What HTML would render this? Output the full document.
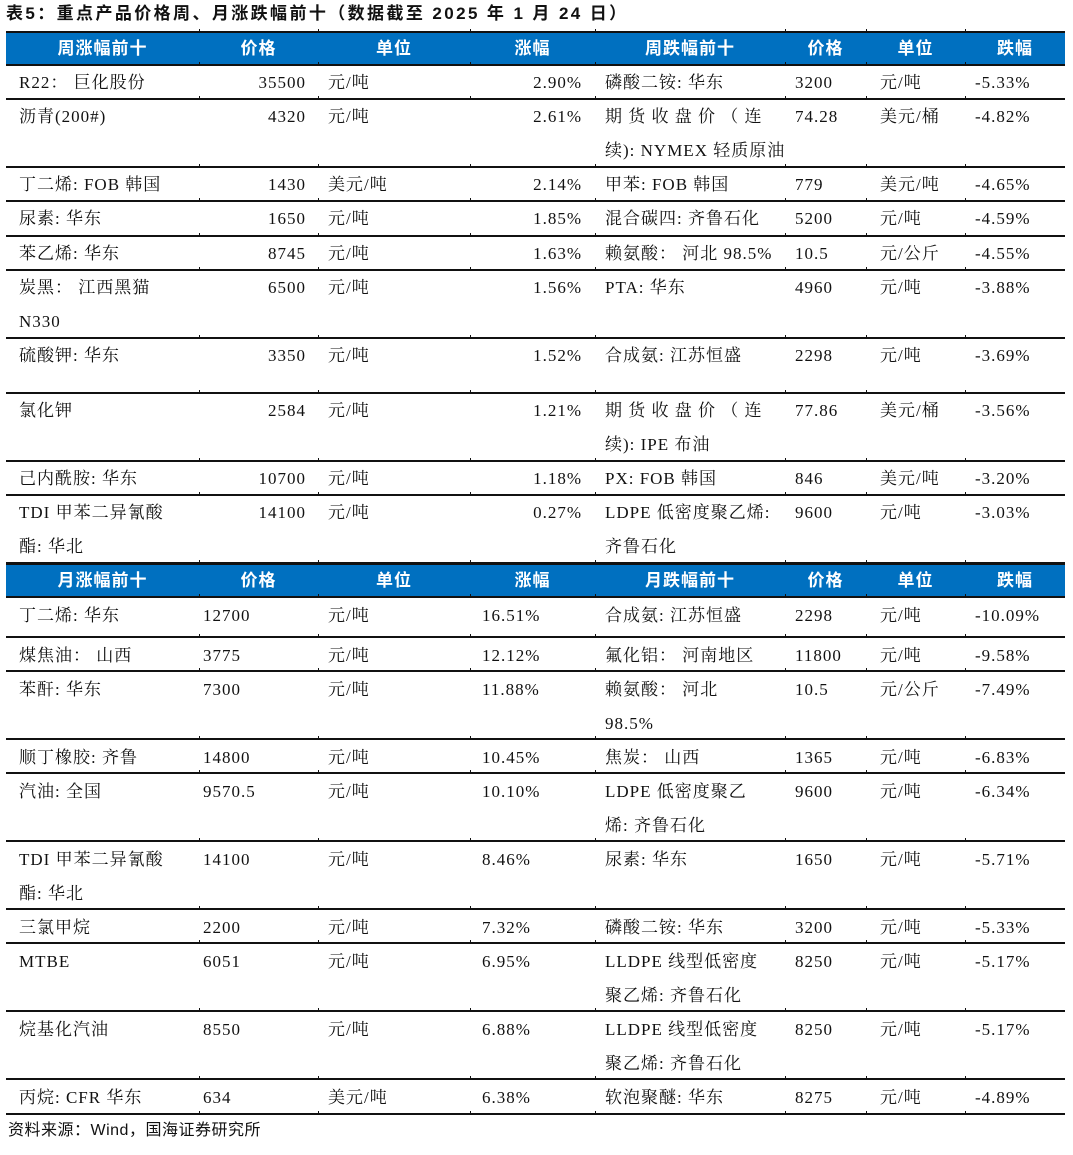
<!DOCTYPE html>
<html><head><meta charset="utf-8">
<style>
body{margin:0;width:1073px;height:1155px;background:#fff;position:relative;overflow:hidden;font-family:"Liberation Serif","Noto Serif CJK SC",serif;color:#111;}
.t{position:absolute;font-size:17px;line-height:34px;white-space:nowrap;letter-spacing:1px;}
.h{position:absolute;background:#0070C0;left:6px;width:1059px;height:33px;}
.ht{position:absolute;color:#fff;font-weight:bold;font-size:17px;line-height:33px;text-align:center;font-family:"Liberation Sans","Noto Sans CJK SC",sans-serif;letter-spacing:1px;}
.ln{position:absolute;left:6px;width:1059px;height:2px;background:#111;}
.tk{position:absolute;width:1px;height:4px;background:#111;}
</style></head><body>
<div style="position:absolute;left:6px;top:2px;font-size:17px;font-weight:bold;font-family:'Liberation Sans','Noto Sans CJK SC',sans-serif;line-height:24px;letter-spacing:2.4px;">表5：重点产品价格周、月涨跌幅前十（数据截至 2025 年 1 月 24 日）</div>
<div id="root"></div>
<div style="position:absolute;left:8px;top:1119px;font-size:16px;line-height:24px;font-family:'Liberation Sans','Noto Sans CJK SC',sans-serif;letter-spacing:0.5px;">资料来源：Wind，国海证券研究所</div>
<script>
const colX=[6,199,318,470,595,785,866,965,1065];
const head1=["周涨幅前十","价格","单位","涨幅","周跌幅前十","价格","单位","跌幅"];
const head2=["月涨幅前十","价格","单位","涨幅","月跌幅前十","价格","单位","跌幅"];
const rows1=[
[["R22： 巨化股份"],"35500","元/吨","2.90%",["磷酸二铵: 华东"],"3200","元/吨","-5.33%",65,99],
[["沥青(200#)"],"4320","元/吨","2.61%",["期 货 收 盘 价 （ 连","续): NYMEX 轻质原油"],"74.28","美元/桶","-4.82%",99,167],
[["丁二烯: FOB 韩国"],"1430","美元/吨","2.14%",["甲苯: FOB 韩国"],"779","美元/吨","-4.65%",167,201],
[["尿素: 华东"],"1650","元/吨","1.85%",["混合碳四: 齐鲁石化"],"5200","元/吨","-4.59%",201,236],
[["苯乙烯: 华东"],"8745","元/吨","1.63%",["赖氨酸： 河北 98.5%"],"10.5","元/公斤","-4.55%",236,270],
[["炭黑： 江西黑猫","N330"],"6500","元/吨","1.56%",["PTA: 华东"],"4960","元/吨","-3.88%",270,338],
[["硫酸钾: 华东"],"3350","元/吨","1.52%",["合成氨: 江苏恒盛"],"2298","元/吨","-3.69%",338,393],
[["氯化钾"],"2584","元/吨","1.21%",["期 货 收 盘 价 （ 连","续): IPE 布油"],"77.86","美元/桶","-3.56%",393,461],
[["己内酰胺: 华东"],"10700","元/吨","1.18%",["PX: FOB 韩国"],"846","美元/吨","-3.20%",461,495],
[["TDI 甲苯二异氰酸","酯: 华北"],"14100","元/吨","0.27%",["LDPE 低密度聚乙烯:","齐鲁石化"],"9600","元/吨","-3.03%",495,563]];
const rows2=[
[["丁二烯: 华东"],"12700","元/吨","16.51%",["合成氨: 江苏恒盛"],"2298","元/吨","-10.09%",597,637],
[["煤焦油： 山西"],"3775","元/吨","12.12%",["氟化铝： 河南地区"],"11800","元/吨","-9.58%",637,671],
[["苯酐: 华东"],"7300","元/吨","11.88%",["赖氨酸： 河北","98.5%"],"10.5","元/公斤","-7.49%",671,739],
[["顺丁橡胶: 齐鲁"],"14800","元/吨","10.45%",["焦炭： 山西"],"1365","元/吨","-6.83%",739,773],
[["汽油: 全国"],"9570.5","元/吨","10.10%",["LDPE 低密度聚乙","烯: 齐鲁石化"],"9600","元/吨","-6.34%",773,841],
[["TDI 甲苯二异氰酸","酯: 华北"],"14100","元/吨","8.46%",["尿素: 华东"],"1650","元/吨","-5.71%",841,909],
[["三氯甲烷"],"2200","元/吨","7.32%",["磷酸二铵: 华东"],"3200","元/吨","-5.33%",909,943],
[["MTBE"],"6051","元/吨","6.95%",["LLDPE 线型低密度","聚乙烯: 齐鲁石化"],"8250","元/吨","-5.17%",943,1011],
[["烷基化汽油"],"8550","元/吨","6.88%",["LLDPE 线型低密度","聚乙烯: 齐鲁石化"],"8250","元/吨","-5.17%",1011,1079],
[["丙烷: CFR 华东"],"634","美元/吨","6.38%",["软泡聚醚: 华东"],"8275","元/吨","-4.89%",1079,1114]];
const root=document.getElementById('root');
function txt(s,x,y,align,name){
  const d=document.createElement('div');
  d.className='t';d.textContent=s;d.style.top=y+'px';
  if(align==='r'){d.style.right=(1073-x)+'px';}else{d.style.left=x+'px';}
  
  
  root.appendChild(d);
}
function line(y,name){
  const d=document.createElement('div');d.className='ln';d.style.top=(y-1)+'px';
  
  
  root.appendChild(d);
  for(let i=1;i<8;i++){const t=document.createElement('div');t.className='tk';t.style.left=colX[i]+'px';t.style.top=(y-3)+'px';
    
    
    root.appendChild(t);}
}
function header(labels,y,name){
  const h=document.createElement('div');h.className='h';h.style.top=y+'px';
  
  
  root.appendChild(h);
  labels.forEach((l,i)=>{const d=document.createElement('div');d.className='ht';d.textContent=l;
    d.style.left=colX[i]+'px';d.style.width=(colX[i+1]-colX[i])+'px';d.style.top=y+'px';
    
    
    root.appendChild(d);});
  line(y,'header-top-rule');line(y+33,'header-bottom-rule');
}
function body(rows,week){
  rows.forEach(r=>{
    const y=r[8]+(week?1:2);
    r[0].forEach((s,k)=>txt(s,19,y+k*34,'l','product-name'));
    if(week){txt(r[1],306,y,'r','price');txt(r[3],582,y,'r','change-pct');}
    else{txt(r[1],203,y,'l','price');txt(r[3],482,y,'l','change-pct');}
    txt(r[2],328,y,'l','unit');
    r[4].forEach((s,k)=>txt(s,605,y+k*34,'l','product-name'));
    txt(r[5],795,y,'l','price');
    txt(r[6],880,y,'l','unit');
    txt(r[7],975,y,'l','change-pct');
    line(r[9],'row-rule');
  });
}
header(head1,32,'weekly-header');
body(rows1,true);
header(head2,564,'monthly-header');
body(rows2,false);
</script>
</body></html>
